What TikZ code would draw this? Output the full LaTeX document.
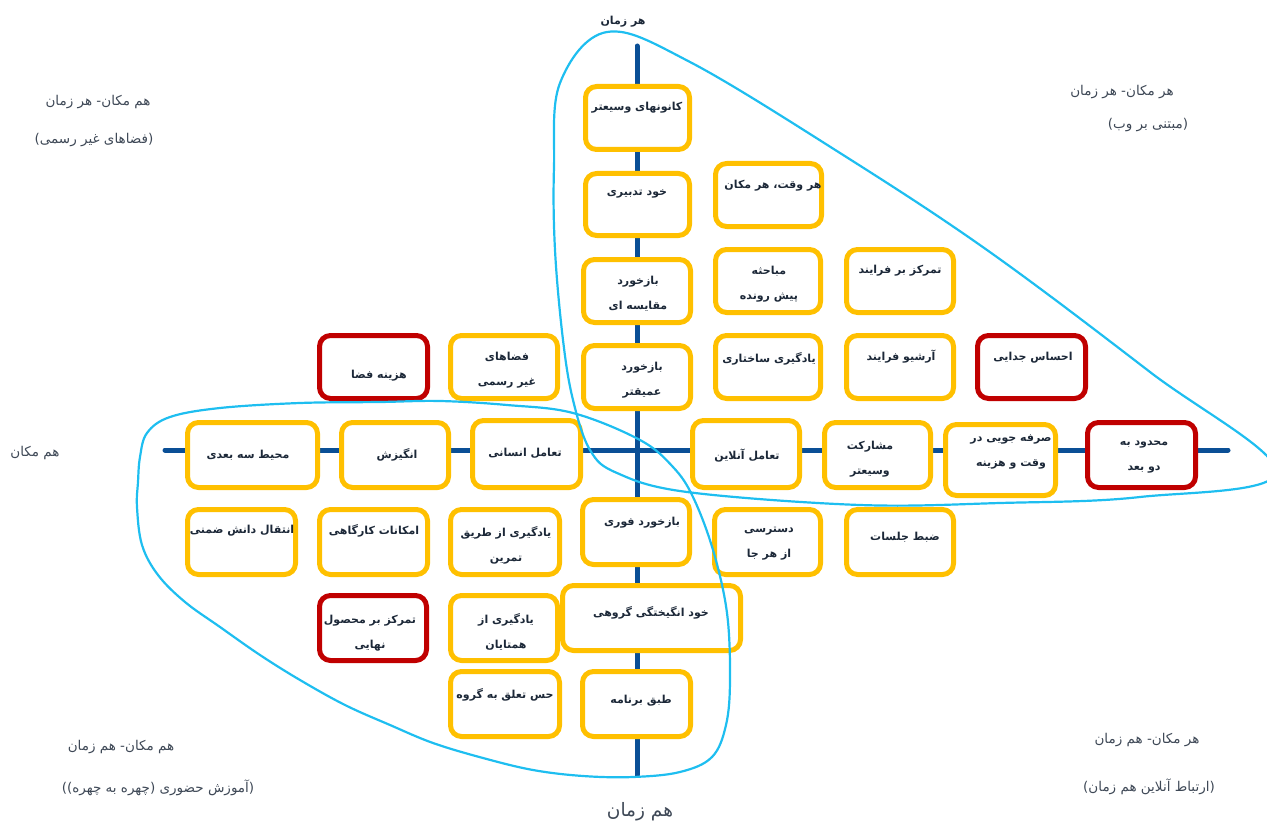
\documentclass[tikz,border=0pt]{standalone}
\usepackage{fontspec}
\newfontfamily\farsi[Script=Arabic]{DejaVu Sans}
\TeXXeTstate=1
\newcommand{\rl}[1]{\beginR#1\endR}
\definecolor{axisblue}{RGB}{10,79,150}
\definecolor{zoneblue}{RGB}{30,190,240}
\definecolor{cellyellow}{RGB}{255,192,0}
\definecolor{cellred}{RGB}{192,0,0}
\definecolor{txtdark}{RGB}{28,40,56}
\tikzset{
  axisline/.style={line width=5pt, axisblue},
  zone/.style={line width=2.2pt, zoneblue},
  cell/.style={line width=5pt, rounded corners=11pt, fill=white},
  celltext/.style={font=\farsi\bfseries\fontsize{11}{25}\selectfont, text=txtdark, align=center, inner sep=0pt},
  quadtext/.style={font=\farsi\fontsize{13.5}{16}\selectfont, text=txtdark!85, inner sep=0pt}
}
\begin{document}
\begin{tikzpicture}[x=1pt, y=-1pt, line join=round, line cap=round]
  \useasboundingbox (0,0) rectangle (1267,824);
  % axes
  \coordinate (top) at (637,46); \coordinate (bottom) at (637,775);
  \coordinate (west) at (165,450); \coordinate (east) at (1228,450);
  \draw[axisline] (west) -- (east);
  \draw[axisline] (top) -- (bottom);
  % cells: name/x1/y1/x2/y2/text x/text y/colour/text
  \foreach \nm/\xa/\ya/\xb/\yb/\tx/\ty/\cl/\txt in {
      kanun/583/84/692/152/637/108/cellyellow/{\rl{کانونهای وسیعتر}},
      tadbir/583/171/692/238/637/194/cellyellow/{\rl{خود تدبیری}},
      moghayese/581/257/693/325/638/294/cellyellow/{\rl{بازخورد}\\\rl{مقایسه ای}},
      amigh/581/343/693/411/642/380/cellyellow/{\rl{بازخورد}\\\rl{عمیقتر}},
      harvaght/713/161/824/229/773/186/cellyellow/{\rl{هر وقت، هر مکان}},
      mobahese/713/247/823/315/769/284/cellyellow/{\rl{مباحثه}\\\rl{پیش رونده}},
      farayand/844/247/956/315/900/271/cellyellow/{\rl{تمرکز بر فرایند}},
      sakhtari/713/333/823/401/769/359/cellyellow/{\rl{یادگیری ساختاری}},
      arshiv/844/333/956/401/901/357/cellyellow/{\rl{آرشیو فرایند}},
      jodai/975/333/1088/401/1033/358/cellred/{\rl{احساس جدایی}},
      hazine/317/333/430/401/379/376/cellred/{\rl{هزینه فضا}},
      fazaha/448/333/560/401/507/370/cellyellow/{\rl{فضاهای}\\\rl{غیر رسمی}},
      mohit/185/420/320/490/248/455/cellyellow/{\rl{محیط سه بعدی}},
      angizesh/339/420/451/490/397/455/cellyellow/{\rl{انگیزش}},
      ensani/470/418/583/490/525/453/cellyellow/{\rl{تعامل انسانی}},
      online/690/418/802/490/747/456/cellyellow/{\rl{تعامل آنلاین}},
      mosharekat/822/420/933/490/870/459/cellyellow/{\rl{مشارکت}\\\rl{وسیعتر}},
      sarfe/943/422/1058/498/1011/452/cellyellow/{\rl{صرفه جویی در}\\\rl{وقت و هزینه}},
      mahdud/1085/420/1198/490/1144/457/cellred/{\rl{محدود به}\\\rl{دو بعد}},
      enteghal/185/507/298/577/242/531/cellyellow/{\rl{انتقال دانش ضمنی}},
      emkanat/317/507/430/577/374/531/cellyellow/{\rl{امکانات کارگاهی}},
      tamrin/448/507/562/577/506/545/cellyellow/{\rl{یادگیری از طریق}\\\rl{تمرین}},
      fori/580/497/692/567/642/523/cellyellow/{\rl{بازخورد فوری}},
      dastresi/712/507/823/577/769/544/cellyellow/{\rl{دسترسی}\\\rl{از هر جا}},
      zabt/844/507/956/577/905/537/cellyellow/{\rl{ضبط جلسات}},
      mahsul/317/593/429/663/370/633/cellred/{\rl{تمرکز بر محصول}\\\rl{نهایی}},
      hamtayan/448/593/560/663/506/632/cellyellow/{\rl{یادگیری از}\\\rl{همتایان}},
      goruhi/560/583/743/653/651/613/cellyellow/{\rl{خود انگیختگی گروهی}},
      taalogh/448/669/562/739/505/695/cellyellow/{\rl{حس تعلق به گروه}},
      barname/580/669/693/739/641/701/cellyellow/{\rl{طبق برنامه}}}{
    \draw[cell, draw=\cl] ({\xa+2.5},{\ya+2.5}) rectangle ({\xb-2.5},{\yb-2.5});
    \node[celltext] (\nm) at (\tx,\ty) {\txt};
  }
  % the two zones
  \draw[zone] plot[smooth cycle, tension=0.6] coordinates {(607,32) (690,62) (840,153) (987,250)
    (1150,372) (1276,472) (1140,497) (1000,503) (860,505) (687,492) (617,473) (590,450)
    (573,400) (563,340) (555,250) (554,167) (560,83)};
  \draw[zone] plot[smooth cycle, tension=0.6] coordinates {(220,408) (300,403) (380,402) (440,401)
    (507,405) (573,413) (640,440) (673,467) (693,497) (713,550) (727,613) (730,680) (726,725)
    (712,757) (680,772) (633,777) (583,776) (533,770) (483,758) (433,743) (390,725) (345,705)
    (300,680) (260,655) (220,627) (185,602) (158,575) (142,545) (137,507) (138,482) (140,457)
    (147,433) (170,417)};
  % axis labels
  \node[celltext] (anytime) at (623,22) {\rl{هر زمان}};
  \node[quadtext, font=\farsi\fontsize{18.5}{20}\selectfont] (sametime) at (640,812) {\rl{هم زمان}};
  \node[quadtext] (sameplace) at (35,453) {\rl{هم مکان}};
  % quadrant labels
  \node[quadtext] (nwA) at (98,102) {\rl{هم مکان- هر زمان}};
  \node[quadtext] (nwB) at (94,140) {\rl{(فضاهای غیر رسمی)}};
  \node[quadtext] (neA) at (1122,92) {\rl{هر مکان- هر زمان}};
  \node[quadtext] (neB) at (1148,125) {\rl{(مبتنی بر وب)}};
  \node[quadtext] (swA) at (121,747) {\rl{هم مکان- هم زمان}};
  \node[quadtext] (swB) at (158,788) {\rl{(آموزش حضوری (چهره به چهره))}};
  \node[quadtext] (seA) at (1147,740) {\rl{هر مکان- هم زمان}};
  \node[quadtext] (seB) at (1149,787) {\rl{(ارتباط آنلاین هم زمان)}};
\end{tikzpicture}
\end{document}
